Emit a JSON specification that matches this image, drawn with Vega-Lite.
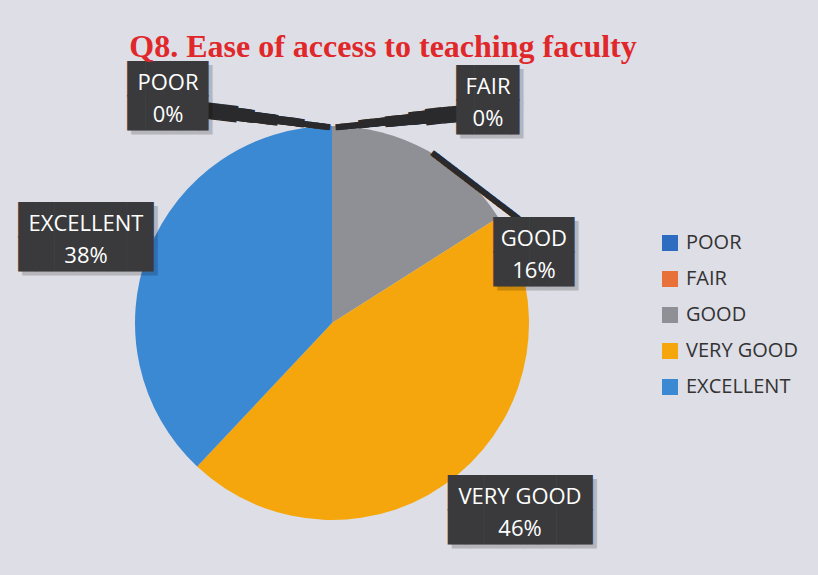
{
  "$schema": "https://vega.github.io/schema/vega-lite/v6.json",
  "width": 664,
  "height": 646,
  "autosize": {"type": "none"},
  "padding": {"left": 0, "top": 0, "right": 154, "bottom": 0},
  "background": "#dedee6",
  "config": {"view": {"stroke": null}},
  "title": {
    "text": "Q8. Ease of access to teaching faculty",
    "font": "Liberation Serif",
    "fontWeight": "bold",
    "fontSize": 32,
    "color": "#e0282b",
    "anchor": "middle",
    "dx": 51,
    "offset": -64
  },
  "data": {
    "values": [
      {"category": "POOR", "value": 0},
      {"category": "FAIR", "value": 0},
      {"category": "GOOD", "value": 16},
      {"category": "VERY GOOD", "value": 46},
      {"category": "EXCELLENT", "value": 38}
    ]
  },
  "transform": [
    {"window": [{"op": "row_number", "as": "idx"}]},
    {"calculate": "[datum.category, datum.value + '%']", "as": "label"}
  ],
  "layer": [
    {
      "mark": {"type": "arc", "outerRadius": 197, "stroke": null},
      "encoding": {
        "theta": {"field": "value", "type": "quantitative", "stack": true},
        "order": {"field": "idx", "type": "quantitative"},
        "color": {
          "field": "category",
          "type": "nominal",
          "scale": {
            "domain": ["POOR", "FAIR", "GOOD", "VERY GOOD", "EXCELLENT"],
            "range": ["#2e6cc2", "#e8713a", "#8f9096", "#f5a60c", "#3b89d2"]
          },
          "legend": {
            "orient": "none",
            "legendX": 660,
            "legendY": 233,
            "title": null,
            "symbolType": "square",
            "symbolSize": 256,
            "symbolStrokeWidth": 0,
            "labelFont": "Open Sans",
            "labelFontSize": 20,
            "labelColor": "#333333",
            "labelOffset": 6,
            "rowPadding": 16
          }
        }
      }
    },
    {
      "transform": [{"filter": "datum.category === 'POOR'"}],
      "layer": [
        {"mark": {"type": "text", "text": "█████████████████████████████████████████", "font": "DejaVu Sans Mono", "fontSize": 5, "color": "#2a2a2c", "theta": -0.2999, "radius": 213.3, "angle": 7.24, "align": "center", "baseline": "middle"}, "encoding": {}},
        {"mark": {"type": "text", "text": "█████████████████████████████████████████", "font": "DejaVu Sans Mono", "fontSize": 5, "color": "#2a2a2c", "theta": -0.2999, "radius": 213.3, "angle": 7.24, "dx": -1.5, "align": "center", "baseline": "middle"}, "encoding": {}},
        {"mark": {"type": "text", "text": "███████████████████████", "font": "DejaVu Sans Mono", "fontSize": 7, "color": "#2a2a2c", "theta": -0.3543, "radius": 219.0, "angle": 7.24, "align": "center", "baseline": "middle"}, "encoding": {}},
        {"mark": {"type": "text", "text": "███████████████████████", "font": "DejaVu Sans Mono", "fontSize": 7, "color": "#2a2a2c", "theta": -0.3543, "radius": 219.0, "angle": 7.24, "dx": -2.1, "align": "center", "baseline": "middle"}, "encoding": {}},
        {"mark": {"type": "text", "text": "█████████████", "font": "DejaVu Sans Mono", "fontSize": 9, "color": "#2a2a2c", "theta": -0.4072, "radius": 225.5, "angle": 7.24, "align": "center", "baseline": "middle"}, "encoding": {}},
        {"mark": {"type": "text", "text": "█████████████", "font": "DejaVu Sans Mono", "fontSize": 9, "color": "#2a2a2c", "theta": -0.4072, "radius": 225.5, "angle": 7.24, "dx": -2.7, "align": "center", "baseline": "middle"}, "encoding": {}},
        {"mark": {"type": "text", "text": "███████", "font": "DejaVu Sans Mono", "fontSize": 11, "color": "#2a2a2c", "theta": -0.4508, "radius": 231.8, "angle": 7.24, "align": "center", "baseline": "middle"}, "encoding": {}},
        {"mark": {"type": "text", "text": "███████", "font": "DejaVu Sans Mono", "fontSize": 11, "color": "#2a2a2c", "theta": -0.4508, "radius": 231.8, "angle": 7.24, "dx": -3.3, "align": "center", "baseline": "middle"}, "encoding": {}},
        {"mark": {"type": "text", "text": "████", "font": "DejaVu Sans Mono", "fontSize": 14, "color": "#2a2a2c", "theta": -0.4883, "radius": 237.7, "angle": 7.24, "align": "center", "baseline": "middle"}, "encoding": {}},
        {"mark": {"type": "text", "text": ["████▌", "████▌"], "lineHeight": 34, "font": "DejaVu Sans Mono", "fontSize": 30, "color": "#000000", "opacity": 0.18, "theta": -0.6257, "radius": 280.0, "dx": 8.5, "dy": -11.6, "align": "center", "baseline": "middle"}, "encoding": {}},
        {"mark": {"type": "text", "text": ["████▌", "████▌"], "lineHeight": 34, "font": "DejaVu Sans Mono", "fontSize": 30, "color": "#3a3a3c", "theta": -0.6257, "radius": 280.0, "dx": 4.5, "dy": -15.6, "align": "center", "baseline": "middle"}, "encoding": {}},
        {"mark": {"type": "text", "font": "Open Sans", "fontSize": 22, "lineHeight": 32, "color": "#ffffff", "theta": -0.6257, "radius": 280.0, "dy": -13, "align": "center", "baseline": "middle"}, "encoding": {"text": {"field": "label"}}}
      ]
    },
    {
      "transform": [{"filter": "datum.category === 'FAIR'"}],
      "layer": [
        {"mark": {"type": "text", "text": "████████████████████████████████████████", "font": "DejaVu Sans Mono", "fontSize": 5, "color": "#2a2a2c", "theta": 0.3046, "radius": 211.7, "angle": -5.76, "align": "center", "baseline": "middle"}, "encoding": {}},
        {"mark": {"type": "text", "text": "████████████████████████████████████████", "font": "DejaVu Sans Mono", "fontSize": 5, "color": "#2a2a2c", "theta": 0.3046, "radius": 211.7, "angle": -5.76, "dx": 1.5, "align": "center", "baseline": "middle"}, "encoding": {}},
        {"mark": {"type": "text", "text": "███████████████████████", "font": "DejaVu Sans Mono", "fontSize": 7, "color": "#2a2a2c", "theta": 0.3527, "radius": 216.5, "angle": -5.76, "align": "center", "baseline": "middle"}, "encoding": {}},
        {"mark": {"type": "text", "text": "███████████████████████", "font": "DejaVu Sans Mono", "fontSize": 7, "color": "#2a2a2c", "theta": 0.3527, "radius": 216.5, "angle": -5.76, "dx": 2.1, "align": "center", "baseline": "middle"}, "encoding": {}},
        {"mark": {"type": "text", "text": "█████████████", "font": "DejaVu Sans Mono", "fontSize": 9, "color": "#2a2a2c", "theta": 0.4072, "radius": 222.7, "angle": -5.76, "align": "center", "baseline": "middle"}, "encoding": {}},
        {"mark": {"type": "text", "text": "█████████████", "font": "DejaVu Sans Mono", "fontSize": 9, "color": "#2a2a2c", "theta": 0.4072, "radius": 222.7, "angle": -5.76, "dx": 2.7, "align": "center", "baseline": "middle"}, "encoding": {}},
        {"mark": {"type": "text", "text": "███████", "font": "DejaVu Sans Mono", "fontSize": 11, "color": "#2a2a2c", "theta": 0.4520, "radius": 228.7, "angle": -5.76, "align": "center", "baseline": "middle"}, "encoding": {}},
        {"mark": {"type": "text", "text": "███████", "font": "DejaVu Sans Mono", "fontSize": 11, "color": "#2a2a2c", "theta": 0.4520, "radius": 228.7, "angle": -5.76, "dx": 3.3, "align": "center", "baseline": "middle"}, "encoding": {}},
        {"mark": {"type": "text", "text": "████", "font": "DejaVu Sans Mono", "fontSize": 14, "color": "#2a2a2c", "theta": 0.4910, "radius": 234.4, "angle": -5.76, "align": "center", "baseline": "middle"}, "encoding": {}},
        {"mark": {"type": "text", "text": ["███▌", "███▌"], "lineHeight": 34, "font": "DejaVu Sans Mono", "fontSize": 30, "color": "#000000", "opacity": 0.18, "theta": 0.6105, "radius": 272.1, "dx": 8.5, "dy": -11.6, "align": "center", "baseline": "middle"}, "encoding": {}},
        {"mark": {"type": "text", "text": ["███▌", "███▌"], "lineHeight": 34, "font": "DejaVu Sans Mono", "fontSize": 30, "color": "#3a3a3c", "theta": 0.6105, "radius": 272.1, "dx": 4.5, "dy": -15.6, "align": "center", "baseline": "middle"}, "encoding": {}},
        {"mark": {"type": "text", "font": "Open Sans", "fontSize": 22, "lineHeight": 32, "color": "#ffffff", "theta": 0.6105, "radius": 272.1, "dy": -13, "align": "center", "baseline": "middle"}, "encoding": {"text": {"field": "label"}}}
      ]
    },
    {
      "transform": [{"filter": "datum.category === 'GOOD'"}],
      "layer": [
        {"mark": {"type": "text", "text": "████████████████████████████████████", "font": "DejaVu Sans Mono", "fontSize": 5, "color": "#2a2a2c", "theta": 0.806, "radius": 198.7, "angle": 37.4, "align": "center", "baseline": "middle"}, "encoding": {}},
        {"mark": {"type": "text", "text": "████████████████████████████████████", "font": "DejaVu Sans Mono", "fontSize": 5, "color": "#2a2a2c", "theta": 0.806, "radius": 198.7, "angle": 37.4, "dx": 1.5, "align": "center", "baseline": "middle"}, "encoding": {}},
        {"mark": {"type": "text", "text": ["████▌", "████▌"], "lineHeight": 34, "font": "DejaVu Sans Mono", "fontSize": 30, "color": "#000000", "opacity": 0.18, "theta": 1.2323, "radius": 214.1, "dx": 8.5, "dy": -11.6, "align": "center", "baseline": "middle"}, "encoding": {}},
        {"mark": {"type": "text", "text": ["████▌", "████▌"], "lineHeight": 34, "font": "DejaVu Sans Mono", "fontSize": 30, "color": "#3a3a3c", "theta": 1.2323, "radius": 214.1, "dx": 4.5, "dy": -15.6, "align": "center", "baseline": "middle"}, "encoding": {}},
        {"mark": {"type": "text", "font": "Open Sans", "fontSize": 22, "lineHeight": 32, "color": "#ffffff", "theta": 1.2323, "radius": 214.1, "dy": -13, "align": "center", "baseline": "middle"}, "encoding": {"text": {"field": "label"}}}
      ]
    },
    {
      "transform": [{"filter": "datum.category === 'VERY GOOD'"}],
      "layer": [
        {"mark": {"type": "text", "text": ["████████", "████████"], "lineHeight": 34, "font": "DejaVu Sans Mono", "fontSize": 30, "color": "#000000", "opacity": 0.18, "theta": 2.3536, "radius": 265.2, "dx": 4, "dy": -11.6, "align": "center", "baseline": "middle"}, "encoding": {}},
        {"mark": {"type": "text", "text": ["████████", "████████"], "lineHeight": 34, "font": "DejaVu Sans Mono", "fontSize": 30, "color": "#3a3a3c", "theta": 2.3536, "radius": 265.2, "dy": -15.6, "align": "center", "baseline": "middle"}, "encoding": {}},
        {"mark": {"type": "text", "font": "Open Sans", "fontSize": 22, "lineHeight": 32, "color": "#ffffff", "theta": 2.3536, "radius": 265.2, "dy": -13, "align": "center", "baseline": "middle"}, "encoding": {"text": {"field": "label"}}}
      ]
    },
    {
      "transform": [{"filter": "datum.category === 'EXCELLENT'"}],
      "layer": [
        {"mark": {"type": "text", "text": ["███████▌", "███████▌"], "lineHeight": 34, "font": "DejaVu Sans Mono", "fontSize": 30, "color": "#000000", "opacity": 0.18, "theta": -1.2343, "radius": 260.6, "dx": 8.5, "dy": -11.6, "align": "center", "baseline": "middle"}, "encoding": {}},
        {"mark": {"type": "text", "text": ["███████▌", "███████▌"], "lineHeight": 34, "font": "DejaVu Sans Mono", "fontSize": 30, "color": "#3a3a3c", "theta": -1.2343, "radius": 260.6, "dx": 4.5, "dy": -15.6, "align": "center", "baseline": "middle"}, "encoding": {}},
        {"mark": {"type": "text", "font": "Open Sans", "fontSize": 22, "lineHeight": 32, "color": "#ffffff", "theta": -1.2343, "radius": 260.6, "dy": -13, "align": "center", "baseline": "middle"}, "encoding": {"text": {"field": "label"}}}
      ]
    }
  ]
}
